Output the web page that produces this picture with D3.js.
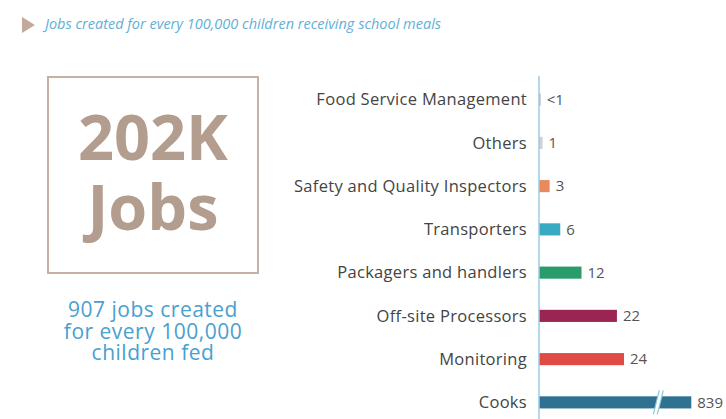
<!DOCTYPE html>
<html>
<head>
<meta charset="utf-8">
<script src="https://cdn.jsdelivr.net/npm/d3@7"></script>
<style>
  body { margin: 0; background: #fff; }
  text { font-family: "Open Sans", sans-serif; }
</style>
</head>
<body>
<div id="viz"></div>
<script>
//-------Data-----------
var categories = ["Food Service Management", "Others", "Safety and Quality Inspectors",
  "Transporters", "Packagers and handlers", "Off-site Processors", "Monitoring", "Cooks"];
var values = [0.5, 1, 3, 6, 12, 22, 24, 839];
var valueLabels = ["<1", "1", "3", "6", "12", "22", "24", "839"];
var barColors = ["#b9c6ce", "#c9d2d8", "#e98a5e", "#3aa9c4", "#2a9b6b", "#9a2452", "#e04b45", "#2f7191"];
var breakValue = 43;   // bars above this get a broken bar
var headline = "202K";
var headlineUnit = "Jobs";
var subLines = ["907 jobs created", "for every 100,000", "children fed"];
var title = "Jobs created for every 100,000 children receiving school meals";

//---------------------------------
var width = 726,
    height = 419;

var svg = d3.select("#viz")
  .append("svg")
    .attr("width", width)
    .attr("height", height);

//------Header-----------
svg.append("path")
    .attr("d", "M22,17 L35,25 L22,33 Z")
    .style("fill", "#c2a99a");

svg.append("text")
    .attr("x", 45)
    .attr("y", 29)
    .style("font-size", "14.5px")
    .style("font-style", "italic")
    .style("fill", "#62afd6")
    .text(title);

//------Big number box-----------
var boxX = 48, boxY = 77, boxW = 210, boxH = 196;
svg.append("rect")
    .attr("x", boxX)
    .attr("y", boxY)
    .attr("width", boxW)
    .attr("height", boxH)
    .style("fill", "none")
    .style("stroke", "#c5b1a3")
    .style("stroke-width", "2px");

svg.append("text")
    .attr("x", boxX + boxW / 2)
    .attr("y", 160)
    .attr("text-anchor", "middle")
    .style("font-size", "63px")
    .style("font-weight", "bold")
    .style("fill", "#b29d8e")
    .text(headline);

svg.append("text")
    .attr("x", boxX + boxW / 2)
    .attr("y", 230)
    .attr("text-anchor", "middle")
    .style("font-size", "63px")
    .style("font-weight", "bold")
    .style("fill", "#b29d8e")
    .text(headlineUnit);

svg.append("g")
  .selectAll("text")
  .data(subLines)
  .enter()
  .append("text")
    .attr("x", boxX + boxW / 2)
    .attr("y", (d, i) => 317 + i * 21.5)
    .attr("text-anchor", "middle")
    .style("font-size", "21px")
    .style("letter-spacing", "0.5px")
    .style("fill", "#4aa0d0")
    .text(d => d);

//------Scales-----------
var axisX = 539;
var xScale = d3.scaleLinear()
    .domain([0, 24])
    .range([0, 85]);

var yScale = d3.scaleBand()
    .domain(categories)
    .range([78, 424])
    .paddingInner(0.72)
    .paddingOuter(0.36);

var rows = categories.map((c, i) => ({
  name: c, value: values[i], label: valueLabels[i], color: barColors[i],
  broken: values[i] > breakValue
}));

var barW = d => xScale(Math.min(d.value, breakValue));

//------Category labels-----------
svg.append("g")
  .selectAll("text")
  .data(rows)
  .enter()
  .append("text")
    .attr("x", axisX - 12)
    .attr("y", d => yScale(d.name) + yScale.bandwidth() / 2)
    .attr("dy", "0.35em")
    .attr("text-anchor", "end")
    .style("font-size", "16.5px")
    .style("letter-spacing", "0.3px")
    .style("fill", "#444")
    .text(d => d.name);

//------Bars-----------
var bars = svg.append("g");
bars.selectAll("rect")
  .data(rows)
  .enter()
  .append("rect")
    .attr("x", axisX)
    .attr("y", d => yScale(d.name))
    .attr("width", barW)
    .attr("height", yScale.bandwidth())
    .style("fill", d => d.color);

// break marks
var brk = svg.append("g")
  .selectAll("g")
  .data(rows.filter(d => d.broken))
  .enter()
  .append("g")
    .attr("transform", d => "translate(" + (axisX + barW(d) - 34) + "," + (yScale(d.name) + yScale.bandwidth() / 2) + ")");
brk.append("path")
    .attr("d", "M-4,12 L2,-12 L6,-12 L0,12 Z")
    .style("fill", "#fff");
brk.append("path")
    .attr("d", "M-4,12 L2,-12 M0,12 L6,-12")
    .style("stroke", "#8cc6de")
    .style("stroke-width", "1.2px");

// value labels
svg.append("g")
  .selectAll("text")
  .data(rows)
  .enter()
  .append("text")
    .attr("x", d => axisX + barW(d) + 6)
    .attr("y", d => yScale(d.name) + yScale.bandwidth() / 2)
    .attr("dy", "0.35em")
    .style("font-size", "15px")
    .style("fill", "#555")
    .text(d => d.label);

//------Axis line-----------
svg.append("line")
    .attr("x1", axisX)
    .attr("x2", axisX)
    .attr("y1", 76)
    .attr("y2", 419)
    .style("stroke", "#9ccbe0")
    .style("stroke-width", "1.5px");
</script>
</body>
</html>
